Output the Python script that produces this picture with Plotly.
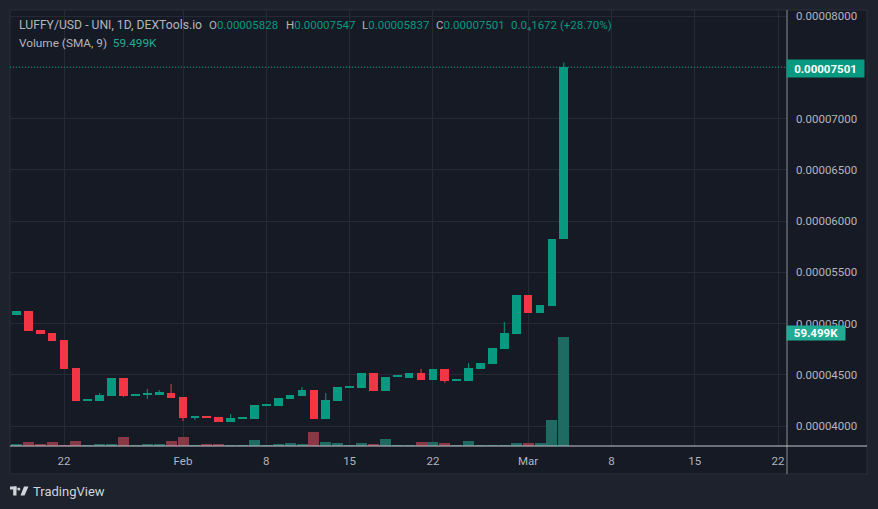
import plotly.graph_objects as go
import pandas as pd

# ---------------- data ----------------
dates = pd.date_range("2024-01-18", "2024-03-04", freq="D")

opens = [5.083e-5, 5.122e-5, 4.937e-5, 4.907e-5, 4.839e-5, 4.566e-5, 4.248e-5, 4.244e-5,
         4.293e-5, 4.468e-5, 4.293e-5, 4.302e-5, 4.312e-5, 4.322e-5, 4.283e-5, 4.078e-5,
         4.098e-5, 4.088e-5, 4.039e-5, 4.072e-5, 4.068e-5, 4.200e-5, 4.195e-5, 4.264e-5,
         4.293e-5, 4.351e-5, 4.068e-5, 4.244e-5, 4.375e-5, 4.371e-5, 4.517e-5, 4.341e-5,
         4.478e-5, 4.468e-5, 4.517e-5, 4.449e-5, 4.556e-5, 4.444e-5, 4.439e-5, 4.556e-5,
         4.605e-5, 4.751e-5, 4.898e-5, 5.278e-5, 5.102e-5, 5.171e-5, 5.828e-5]
highs = [5.122e-5, 5.122e-5, 4.937e-5, 4.907e-5, 4.839e-5, 4.566e-5, 4.262e-5, 4.322e-5,
         4.468e-5, 4.468e-5, 4.312e-5, 4.361e-5, 4.351e-5, 4.410e-5, 4.283e-5, 4.098e-5,
         4.098e-5, 4.088e-5, 4.117e-5, 4.085e-5, 4.205e-5, 4.213e-5, 4.273e-5, 4.302e-5,
         4.380e-5, 4.351e-5, 4.322e-5, 4.380e-5, 4.388e-5, 4.517e-5, 4.517e-5, 4.478e-5,
         4.490e-5, 4.517e-5, 4.556e-5, 4.556e-5, 4.556e-5, 4.456e-5, 4.615e-5, 4.615e-5,
         4.761e-5, 5.015e-5, 5.278e-5, 5.278e-5, 5.180e-5, 5.820e-5, 7.547e-5]
lows = [5.083e-5, 4.927e-5, 4.898e-5, 4.829e-5, 4.556e-5, 4.244e-5, 4.248e-5, 4.244e-5,
        4.293e-5, 4.283e-5, 4.293e-5, 4.264e-5, 4.312e-5, 4.273e-5, 4.049e-5, 4.059e-5,
        4.078e-5, 4.039e-5, 4.039e-5, 4.072e-5, 4.068e-5, 4.200e-5, 4.195e-5, 4.264e-5,
        4.293e-5, 4.068e-5, 4.068e-5, 4.244e-5, 4.375e-5, 4.371e-5, 4.341e-5, 4.341e-5,
        4.478e-5, 4.468e-5, 4.449e-5, 4.449e-5, 4.420e-5, 4.444e-5, 4.439e-5, 4.556e-5,
        4.605e-5, 4.751e-5, 4.898e-5, 5.102e-5, 5.102e-5, 5.171e-5, 5.828e-5]
closes = [5.122e-5, 4.927e-5, 4.898e-5, 4.829e-5, 4.556e-5, 4.244e-5, 4.262e-5, 4.302e-5,
          4.468e-5, 4.293e-5, 4.312e-5, 4.322e-5, 4.327e-5, 4.273e-5, 4.078e-5, 4.098e-5,
          4.078e-5, 4.039e-5, 4.078e-5, 4.085e-5, 4.205e-5, 4.213e-5, 4.273e-5, 4.302e-5,
          4.351e-5, 4.068e-5, 4.249e-5, 4.380e-5, 4.388e-5, 4.517e-5, 4.341e-5, 4.478e-5,
          4.490e-5, 4.517e-5, 4.449e-5, 4.556e-5, 4.439e-5, 4.456e-5, 4.566e-5, 4.615e-5,
          4.761e-5, 4.907e-5, 5.278e-5, 5.102e-5, 5.180e-5, 5.820e-5, 7.501e-5]
volumes = [1000, 2000, 1000, 2000, 500, 2600, 500, 1000, 1000, 4800, 500, 1000, 1000, 2600,
           4800, 500, 1000, 1000, 500, 500, 3100, 500, 1000, 1500, 1000, 7600, 2000, 1500,
           500, 1500, 1000, 3800, 500, 500, 2000, 2000, 1500, 500, 2600, 500, 500, 500,
           1500, 1500, 1500, 14200, 59499]

price_ticks = [4.0e-5, 4.5e-5, 5.0e-5, 5.5e-5, 6.0e-5, 6.5e-5, 7.0e-5, 8.0e-5]
hidden_grid_price = 7.5e-5   # grid line whose label sits under the last-price tag
date_tick_vals = ["2024-01-22", "2024-02-01", "2024-02-08", "2024-02-15", "2024-02-22",
                  "2024-03-01", "2024-03-08", "2024-03-15", "2024-03-22"]
date_tick_text = ["22", "Feb", "8", "15", "22", "Mar", "8", "15", "22"]

header_title = "LUFFY/USD - UNI, 1D, DEXTools.io"
header_ohlc = [("O", "0.00005828"), ("H", "0.00007547"), ("L", "0.00005837"), ("C", "0.00007501")]
header_change = "0.0₄1672 (+28.70%)"
volume_title = "Volume (SMA, 9)"
last_price_text = "0.00007501"
last_volume_text = "59.499K"

# ---------------- styling ----------------
UP = "#089981"
DOWN = "#f23645"
UP_VOL = "#1f6b63"
DOWN_VOL = "#8a3746"
BG = "#161a25"
PAPER = "#1e222d"
GRID = "#262a35"
TXT = "#b2b5be"
FONT = "Roboto"

W, H = 878, 509
L, R, T, B = 10, 787, 10, 446


def px(x):
    return (x - L) / (R - L)


def py(y):
    return (B - y) / (B - T)


DAY_MS = 86400000
PX_PER_DAY = 11.9
body_w = 8.7 / PX_PER_DAY * DAY_MS
vol_w = 11.0 / PX_PER_DAY * DAY_MS
min_body = 0.018e-5

up = [c >= o for o, c in zip(opens, closes)]

fig = go.Figure()

# volume
fig.add_trace(go.Bar(
    x=dates, y=volumes, yaxis="y2", width=[vol_w] * len(dates),
    marker=dict(color=[UP_VOL if u else DOWN_VOL for u in up], line_width=0),
    hoverinfo="skip", showlegend=False))

# wicks
for flag, col in ((True, UP), (False, DOWN)):
    wx, wy = [], []
    for d, h, l, u in zip(dates, highs, lows, up):
        if u == flag:
            wx += [d, d, None]
            wy += [l, h, None]
    fig.add_trace(go.Scatter(x=wx, y=wy, mode="lines", line=dict(color=col, width=1),
                             hoverinfo="skip", showlegend=False))

# bodies
fig.add_trace(go.Bar(
    x=dates,
    base=[min(o, c) for o, c in zip(opens, closes)],
    y=[max(abs(c - o), min_body) for o, c in zip(opens, closes)],
    width=[body_w] * len(dates),
    marker=dict(color=[UP if u else DOWN for u in up], line_width=0),
    hoverinfo="skip", showlegend=False))

x_left = pd.Timestamp("2024-01-22") - pd.Timedelta(days=(64 - L) / PX_PER_DAY)
x_right = pd.Timestamp("2024-01-22") + pd.Timedelta(days=(R - 64) / PX_PER_DAY)
y_lo = 8.0e-5 - (B - 16) / 102.5 * 1e-5
y_hi = 8.0e-5 + (16 - T) / 102.5 * 1e-5
vol_hi = volumes[-1] * (B - T) / (B - 337)

shapes = [
    dict(type="rect", xref="paper", yref="paper", x0=0, x1=px(867), y0=py(474), y1=1,
         fillcolor=BG, line=dict(color="#2a2e39", width=1), layer="below"),
    dict(type="line", xref="paper", yref="y", x0=0, x1=1, y0=hidden_grid_price,
         y1=hidden_grid_price, line=dict(color=GRID, width=1), layer="below"),
    dict(type="line", xref="paper", yref="y", x0=0, x1=1, y0=closes[-1], y1=closes[-1],
         line=dict(color=UP, width=1, dash="1px,2px")),
    dict(type="line", xref="paper", yref="paper", x0=1, x1=1, y0=py(474), y1=1,
         line=dict(color="#8a8d96", width=1)),
    dict(type="line", xref="paper", yref="paper", x0=0, x1=px(867), y0=0, y1=0,
         line=dict(color="#c5c8ce", width=1)),
]


# TradingView logo glyph (decorative)
def rect_path(x0, y0, x1, y1):
    return dict(type="rect", xref="paper", yref="paper", x0=px(x0), x1=px(x1),
                y0=py(y1), y1=py(y0), fillcolor="#d1d4dc", line_width=0)


shapes += [
    rect_path(10, 486.5, 16.5, 489.5),
    rect_path(13.2, 486.5, 16.5, 495.5),
    dict(type="circle", xref="paper", yref="paper", x0=px(17.3), x1=px(20.3),
         y0=py(490.5), y1=py(487.5), fillcolor="#d1d4dc", line_width=0),
    dict(type="path", xref="paper", yref="paper",
         path=f"M {px(24.0)} {py(486.5)} L {px(28.5)} {py(486.5)} L {px(24.5)} {py(495.5)} "
              f"L {px(20.5)} {py(495.5)} Z",
         fillcolor="#d1d4dc", line_width=0),
]

annotations = []


def txt(x, y, s, color=TXT, size=11.5):
    annotations.append(dict(xref="paper", yref="paper", x=px(x), y=py(y), xanchor="left",
                            yanchor="middle", showarrow=False, text=s,
                            font=dict(family=FONT, size=size, color=color)))


def colored(label, value, vcol=UP):
    return f"{label}<span style='color:{vcol}'>{value}</span>"


txt(17, 25, header_title, size=12.2)
for xpos, (lab, val) in zip([207, 283.5, 360, 434], header_ohlc):
    txt(xpos, 25, colored(lab, val))
txt(509, 25, header_change, UP)
txt(17, 43, colored(volume_title + "  ", last_volume_text, "#22ab94"), size=11.8)
txt(31, 492, "TradingView", "#d1d4dc", size=13)

annotations.append(dict(xref="paper", yref="paper", x=px(786), y=py(68.5), xanchor="left",
                        yanchor="middle", showarrow=False, text=f"<b>{last_price_text}</b>",
                        width=77, height=17, bgcolor=UP, borderpad=0, align="center",
                        font=dict(family=FONT, size=11.5, color="#ffffff")))
annotations.append(dict(xref="paper", yref="paper", x=px(786), y=py(333), xanchor="left",
                        yanchor="middle", showarrow=False, text=f"<b>{last_volume_text}</b>",
                        width=58, height=14, bgcolor="#22ab94", borderpad=0, align="center",
                        font=dict(family=FONT, size=11.5, color="#ffffff")))

fig.update_layout(
    width=W, height=H,
    margin=dict(l=L, r=W - R, t=T, b=H - B, pad=0),
    paper_bgcolor=PAPER, plot_bgcolor=BG,
    barmode="overlay", bargap=0,
    showlegend=False,
    font=dict(family=FONT, size=11.5, color=TXT),
    xaxis=dict(type="date", range=[x_left, x_right], tickvals=date_tick_vals,
               ticktext=date_tick_text, showgrid=True, gridcolor=GRID, gridwidth=1,
               ticks="", showline=False, zeroline=False, fixedrange=True,
               ticklabelstandoff=6, tickfont=dict(family=FONT, size=11.5, color=TXT)),
    yaxis=dict(side="right", range=[y_lo, y_hi], tickvals=price_ticks, tickformat=".8f",
               showgrid=True, gridcolor=GRID, gridwidth=1, ticks="", showline=False,
               zeroline=False, fixedrange=True, ticklabelstandoff=8,
               tickfont=dict(family=FONT, size=11.5, color=TXT)),
    yaxis2=dict(overlaying="y", range=[0, vol_hi], visible=False, fixedrange=True),
    shapes=shapes,
    annotations=annotations,
)

fig.write_html("out.html", config={"displayModeBar": False})
